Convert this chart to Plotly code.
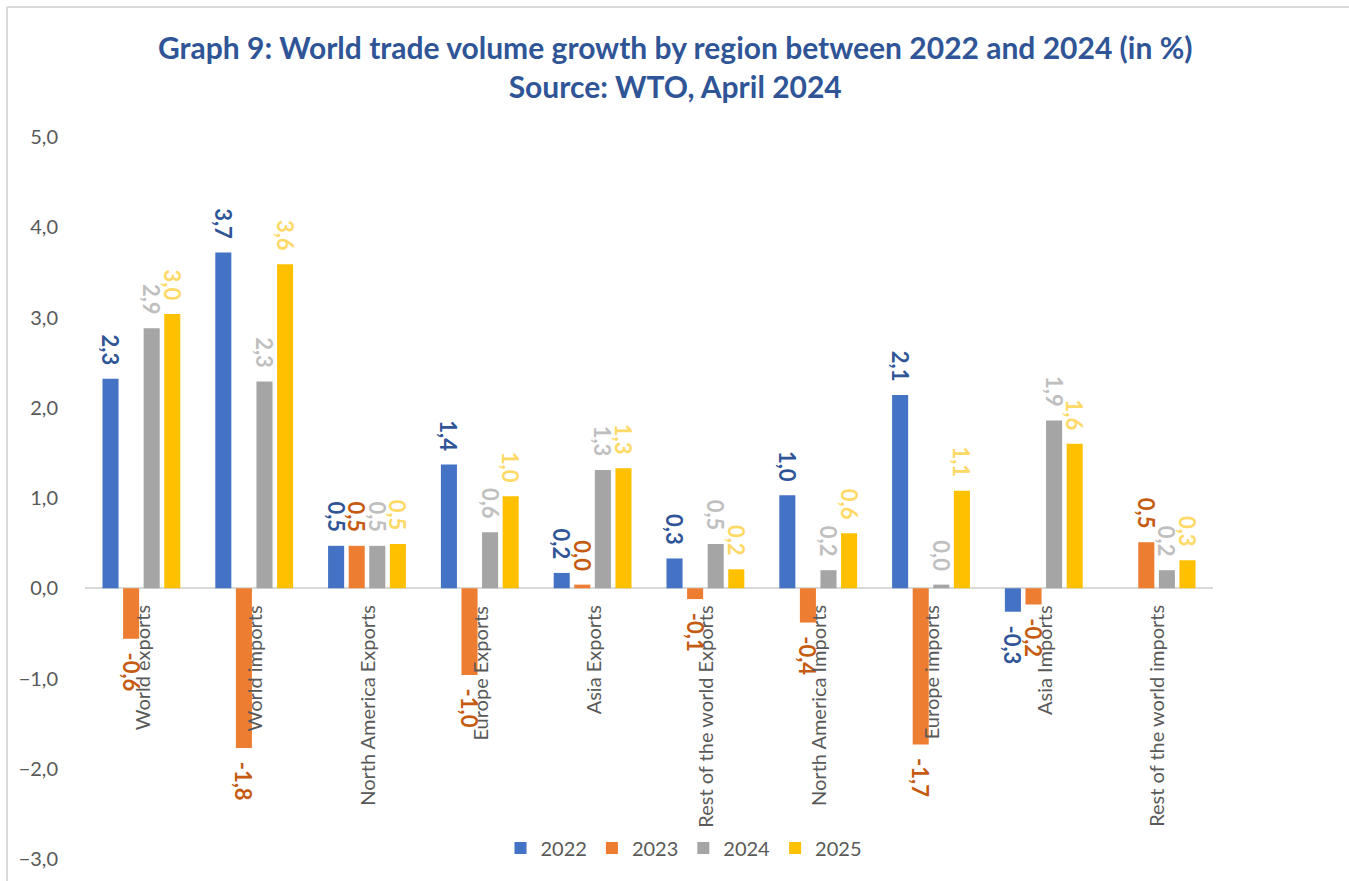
import plotly.graph_objects as go

# Trade volume growth (%) by region and year
categories = [
    "World exports", "World imports", "North America Exports", "Europe Exports",
    "Asia Exports", "Rest of the world Exports", "North America Imports",
    "Europe imports", "Asia Imports", "Rest of the world imports",
]
years = ["2022", "2023", "2024", "2025"]
values_2022 = [2.32, 3.72, 0.47, 1.37, 0.17, 0.33, 1.03, 2.14, -0.26, None]
values_2023 = [-0.56, -1.77, 0.47, -0.96, 0.04, -0.12, -0.38, -1.73, -0.18, 0.51]
values_2024 = [2.88, 2.29, 0.47, 0.62, 1.31, 0.49, 0.20, 0.04, 1.86, 0.20]
values_2025 = [3.04, 3.59, 0.49, 1.02, 1.33, 0.21, 0.61, 1.08, 1.60, 0.31]
y_ticks = [5, 4, 3, 2, 1, 0, -1, -2, -3]

series = [values_2022, values_2023, values_2024, values_2025]
bar_colors = ["#4472C4", "#ED7D31", "#A5A5A5", "#FFC000"]
label_colors = ["#2F5597", "#C55A11", "#BFBFBF", "#FFD966"]

FONT = "Lato"
W, H = 1349, 881
L, R, T, B = 85, 136, 137, 22
plot_w = W - L - R
plot_h = H - T - B
GAP = "\u00a0\u00a0"  # spacing between a bar end and its rotated label


def fmt(v):
    if v is None:
        return ""
    s = f"{v:.1f}".replace(".", ",")
    # rotated labels read top-to-bottom, so pad on the side facing the bar
    return s + GAP if v >= 0 else GAP + s


fig = go.Figure()
for name, vals, bc, lc in zip(years, series, bar_colors, label_colors):
    fig.add_trace(go.Bar(
        name=name, x=categories, y=vals,
        marker=dict(color=bc, line=dict(width=0)),
        text=[fmt(v) for v in vals],
        textposition="outside", textangle=90, cliponaxis=False,
        constraintext="none",
        textfont=dict(family=FONT, size=22, color=lc, weight="bold"),
    ))

# Category names hang below the zero line, rotated
annotations = [
    dict(x=c, y=0, xref="x", yref="y", text=c, showarrow=False,
         textangle=-90, xanchor="center", yanchor="top", yshift=-15,
         font=dict(family=FONT, size=20, color="#595959"))
    for c in categories
]

annotations.append(dict(
    text="Graph 9: World trade volume growth by region between 2022 and 2024 (in %)<br>Source: WTO, April 2024",
    xref="paper", yref="paper", x=(W / 2 - L) / plot_w, y=(H - B - 66.5) / plot_h,
    xanchor="center", yanchor="middle", showarrow=False,
    font=dict(family=FONT, size=30, color="#2F5597", weight="bold"),
))

# Chart frame (top and left edges)
frame_x = (7 - L) / plot_w
frame_y = (H - B - 7) / plot_h
shapes = [
    dict(type="line", xref="paper", yref="paper", x0=frame_x, x1=(W - L) / plot_w,
         y0=frame_y, y1=frame_y, line=dict(color="#D9D9D9", width=2)),
    dict(type="line", xref="paper", yref="paper", x0=frame_x, x1=frame_x,
         y0=frame_y, y1=-B / plot_h, line=dict(color="#D9D9D9", width=2)),
]

fig.update_layout(
    width=W, height=H,
    margin=dict(l=L, r=R, t=T, b=B, pad=0),
    paper_bgcolor="white", plot_bgcolor="white",
    separators=", ",
    barmode="group", bargap=0.27, bargroupgap=0.22,
    font=dict(family=FONT, color="#595959"),
    showlegend=True,
    legend=dict(orientation="h", x=(684 - L) / plot_w, xanchor="center",
                y=11 / plot_h, yanchor="middle",
                font=dict(family=FONT, size=20, color="#595959"),
                itemwidth=30, tracegroupgap=0, bgcolor="rgba(0,0,0,0)"),
    annotations=annotations,
    shapes=shapes,
    xaxis=dict(showticklabels=False, showgrid=False, zeroline=False,
               showline=False, ticks=""),
    yaxis=dict(range=[-3, 5], tickvals=y_ticks, tickformat=".1f",
               showgrid=False, zeroline=True, zerolinecolor="#D9D9D9",
               zerolinewidth=2, showline=False,
               ticks="outside", ticklen=22, tickcolor="rgba(0,0,0,0)",
               tickfont=dict(family=FONT, size=20, color="#595959")),
)

fig.write_html("out.html")
